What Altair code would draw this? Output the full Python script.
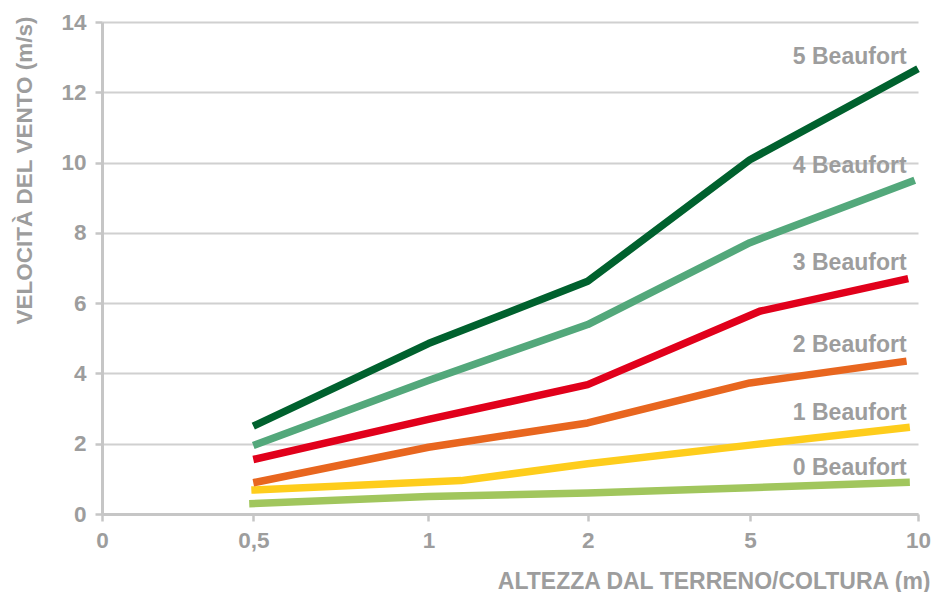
import altair as alt
import pandas as pd

# x axis: heights above ground/crop, drawn at these axis positions
height_labels = ["0", "0,5", "1", "2", "5", "10"]
tick_pos = [0, 0.927, 2.0, 2.976, 3.97, 5.0]

y_ticks = [0, 2, 4, 6, 8, 10, 12, 14]

series = ["0 Beaufort", "1 Beaufort", "2 Beaufort", "3 Beaufort", "4 Beaufort", "5 Beaufort"]
colors = ["#a1c65d", "#fecd1c", "#e8661f", "#e1001b", "#53a87b", "#00612e"]

b0_x = [0.902, 2.0, 2.976, 3.97, 4.95]
b0_y = [0.29, 0.50, 0.60, 0.75, 0.90]
b1_x = [0.915, 2.2, 2.976, 3.97, 4.95]
b1_y = [0.68, 0.95, 1.43, 1.96, 2.47]
b2_x = [0.927, 2.0, 2.976, 3.97, 4.93]
b2_y = [0.89, 1.90, 2.59, 3.73, 4.35]
b3_x = [0.927, 2.0, 2.976, 4.03, 4.94]
b3_y = [1.55, 2.69, 3.68, 5.77, 6.70]
b4_x = [0.927, 2.0, 2.976, 3.97, 4.98]
b4_y = [1.95, 3.80, 5.39, 7.72, 9.50]
b5_x = [0.927, 2.0, 2.976, 3.97, 5.0]
b5_y = [2.50, 4.85, 6.62, 10.08, 12.67]

label_x = 4.93
label_y = [1.31, 2.86, 4.82, 7.13, 9.89, 13.0]

xs = [b0_x, b1_x, b2_x, b3_x, b4_x, b5_x]
ys = [b0_y, b1_y, b2_y, b3_y, b4_y, b5_y]

rows = []
for name, sx, sy in zip(series, xs, ys):
    for a, b in zip(sx, sy):
        rows.append({"serie": name, "pos": a, "v": b})
df = pd.DataFrame(rows)

lab = pd.DataFrame({"serie": series, "pos": [label_x] * len(series), "v": label_y})

label_expr = ""
for p, t in zip(tick_pos, height_labels):
    label_expr += f"datum.value == {p} ? '{t}' : "
label_expr += "''"

GRAY = "#9d9d9d"
FONT = "Liberation Sans"

x_scale = alt.Scale(domain=[0, 5], nice=False, zero=False)
y_scale = alt.Scale(domain=[0, 14], nice=False)

x_axis = alt.Axis(
    values=tick_pos, labelExpr=label_expr, grid=False, labelFlush=False,
    domainColor="#c6c6c6", domainWidth=3, tickColor="#c6c6c6", tickWidth=2.5, tickSize=7,
    labelFont=FONT, labelFontSize=22.5, labelFontWeight="bold", labelColor=GRAY, labelPadding=8,
    title="ALTEZZA DAL TERRENO/COLTURA (m)", titleFont=FONT, titleFontSize=23,
    titleFontWeight="bold", titleColor=GRAY, titleX=828, titleY=74,
    titleAlign="right", titleBaseline="alphabetic",
)
y_axis = alt.Axis(
    values=y_ticks, grid=True, gridColor="#d0d0d0", gridWidth=2, labelFlush=False,
    domainColor="#c6c6c6", domainWidth=3, tickColor="#c6c6c6", tickWidth=2.5, tickSize=7,
    labelFont=FONT, labelFontSize=22.5, labelFontWeight="bold", labelColor=GRAY, labelPadding=9,
    title="VELOCITÀ DEL VENTO (m/s)", titleFont=FONT, titleFontSize=22.5,
    titleFontWeight="bold", titleColor=GRAY, titleAngle=270, titleX=-71, titleY=-6,
    titleAlign="right", titleBaseline="alphabetic",
)

lines = alt.Chart(df).mark_line(strokeWidth=7.5, strokeCap="butt", strokeJoin="round").encode(
    x=alt.X("pos:Q", scale=x_scale, axis=x_axis),
    y=alt.Y("v:Q", scale=y_scale, axis=y_axis),
    color=alt.Color("serie:N", scale=alt.Scale(domain=series, range=colors), legend=None),
    order=alt.Order("pos:Q"),
)

labels = alt.Chart(lab).mark_text(
    align="right", baseline="middle", font=FONT, fontSize=23, fontWeight="bold", color=GRAY
).encode(
    x=alt.X("pos:Q", scale=x_scale),
    y=alt.Y("v:Q", scale=y_scale),
    text="serie:N",
)

chart = alt.layer(lines, labels).properties(
    width=816, height=492,
    autosize=alt.AutoSizeParams(type="none"),
    padding={"left": 94, "top": 14, "right": 13, "bottom": 78},
    background="white",
).configure_view(strokeWidth=0)

chart.save("out.html", embed_options={"renderer": "svg", "actions": False})
